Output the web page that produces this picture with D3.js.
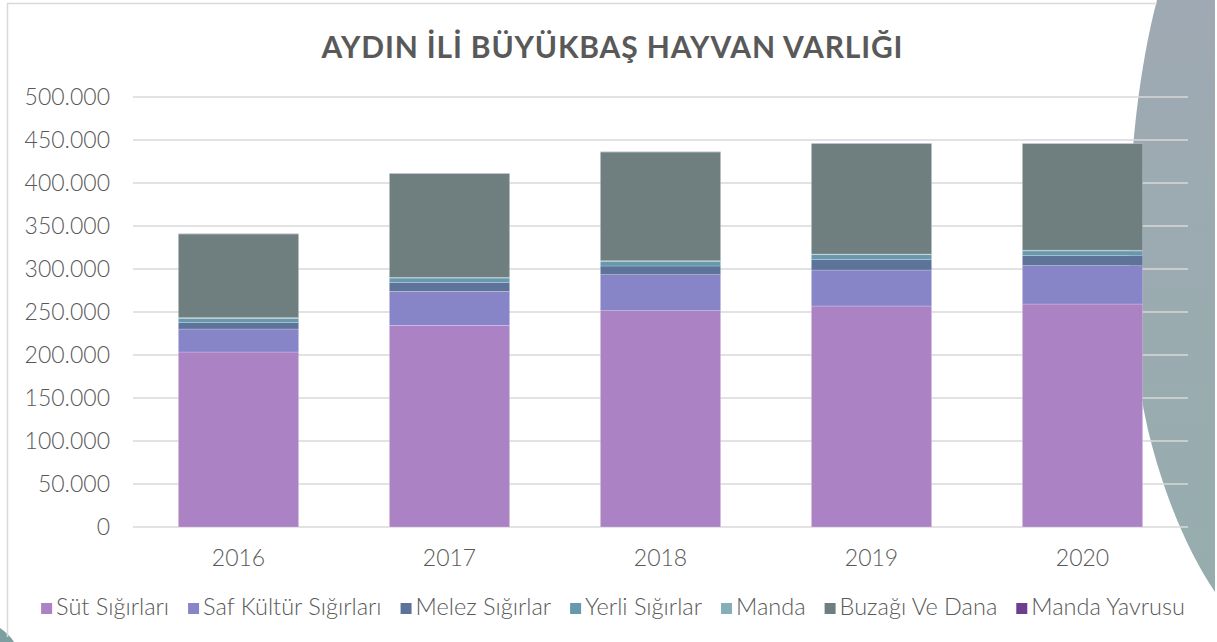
<!DOCTYPE html>
<html>
<head>
<meta charset="utf-8">
<script src="https://cdn.jsdelivr.net/npm/d3@7"></script>
<style>
  body { margin: 0; background: #fff; }
  svg text { font-family: "Lato", "Open Sans", sans-serif; }
</style>
</head>
<body>
<svg id="chart" width="1217" height="642"></svg>
<script>
/** Years on the x axis */
var years = ['2016', '2017', '2018', '2019', '2020'];

/** Series names, bottom to top */
var seriesNames = ['Süt Sığırları', 'Saf Kültür Sığırları', 'Melez Sığırlar', 'Yerli Sığırlar',
    'Manda', 'Buzağı Ve Dana', 'Manda Yavrusu'];

/** Series values per year (head count) */
var sutSigirlari   = [203500, 234500, 251500, 257000, 259300];
var safKultur      = [26700, 39500, 41900, 41800, 44600];
var melezSigirlar  = [7400, 10100, 10100, 12400, 11600];
var yerliSigirlar  = [5000, 5400, 5400, 5400, 5500];
var manda          = [800, 700, 700, 800, 900];
var buzagiVeDana   = [97300, 120700, 126400, 128400, 123800];
var mandaYavrusu   = [300, 300, 300, 300, 300];

/** Colors */
var seriesColors = ['#ab83c5', '#8784c7', '#5d7399', '#6898ae', '#84afb9', '#6f7f80', '#6e3d8d'];

var yTicks = [0, 50000, 100000, 150000, 200000, 250000, 300000, 350000, 400000, 450000, 500000];

var chartTitle = 'AYDIN İLİ BÜYÜKBAŞ HAYVAN VARLIĞI';

var width = 1217,
    height = 642,
    plotLeft = 133,
    plotRight = 1188,
    plotTop = 97,
    plotBottom = 527;

var svg = d3.select('#chart');

// build table for the stack
var allSeries = [sutSigirlari, safKultur, melezSigirlar, yerliSigirlar, manda, buzagiVeDana, mandaYavrusu];
var table = years.map(function (y, i) {
    var row = {year: y};
    seriesNames.forEach(function (s, j) {
        row[s] = allSeries[j][i];
    });
    return row;
});
var stacked = d3.stack().keys(seriesNames)(table);

var x = d3.scaleBand()
    .domain(years)
    .range([plotLeft, plotRight])
    .paddingInner(0.43)
    .paddingOuter(0.215);

var y = d3.scaleLinear()
    .domain([0, 500000])
    .range([plotBottom, plotTop]);

var color = d3.scaleOrdinal()
    .domain(seriesNames)
    .range(seriesColors);

var trLocale = d3.formatLocale({decimal: ',', thousands: '.', grouping: [3], currency: ['', ' TL']});
var fmt = trLocale.format(',');

// background and decoration
svg.append('rect')
    .attr('width', width)
    .attr('height', height)
    .attr('fill', '#ffffff');

var defs = svg.append('defs');
var grad = defs.append('linearGradient')
    .attr('id', 'decoGrad')
    .attr('x1', 0).attr('y1', 0).attr('x2', 0).attr('y2', 1);
grad.append('stop').attr('offset', '0%').attr('stop-color', '#9fa9b3');
grad.append('stop').attr('offset', '100%').attr('stop-color', '#96adae');

svg.append('path')
    .attr('d', 'M1157,0 C1128,110 1116,290 1148,430 C1165,500 1190,555 1215,592 L1215,0 Z')
    .attr('fill', 'url(#decoGrad)');

svg.append('path')
    .attr('d', 'M0,628 C6,632 11,637 14,642 L0,642 Z')
    .attr('fill', '#7e9f9f');

// frame
svg.append('path')
    .attr('d', 'M1157,3.5 L7.5,3.5 L7.5,637')
    .attr('fill', 'none')
    .attr('stroke', '#d9d9d9')
    .attr('stroke-width', 1.5);

// title
svg.append('text')
    .attr('x', 612)
    .attr('y', 58)
    .attr('text-anchor', 'middle')
    .attr('textLength', 581)
    .attr('lengthAdjust', 'spacing')
    .style('font-size', '30px')
    .style('font-weight', 'bold')
    .style('fill', '#595959')
    .text(chartTitle);

// gridlines
svg.append('g')
    .selectAll('line')
    .data(yTicks)
    .enter()
    .append('line')
    .attr('x1', plotLeft)
    .attr('x2', plotRight)
    .attr('y1', function (d) { return y(d); })
    .attr('y2', function (d) { return y(d); })
    .attr('stroke', '#d9d9d9')
    .attr('stroke-width', 1.3);

// y axis labels
var yAxis = d3.axisLeft(y)
    .tickValues(yTicks)
    .tickFormat(fmt)
    .tickSize(0)
    .tickPadding(0);

var gy = svg.append('g')
    .attr('transform', 'translate(110,0)')
    .call(yAxis);
gy.select('.domain').remove();
gy.selectAll('text')
    .style('font-size', '23px')
    .style('font-family', 'Lato, sans-serif')
    .style('font-weight', 300)
    .style('fill', '#595959');

// bars
svg.append('g')
    .selectAll('g')
    .data(stacked)
    .enter()
    .append('g')
    .attr('fill', function (d) { return color(d.key); })
    .selectAll('rect')
    .data(function (d) { return d; })
    .enter()
    .append('rect')
    .attr('x', function (d) { return x(d.data.year); })
    .attr('y', function (d) { return y(d[1]); })
    .attr('width', x.bandwidth())
    .attr('height', function (d) { return y(d[0]) - y(d[1]); })
    .attr('stroke', 'rgba(255,255,255,0.35)')
    .attr('stroke-width', 0.6);

// x axis labels
var xAxis = d3.axisBottom(x)
    .tickSize(0)
    .tickPadding(0);
var gx = svg.append('g')
    .attr('transform', 'translate(0,550)')
    .call(xAxis);
gx.select('.domain').remove();
gx.selectAll('text')
    .style('font-size', '23px')
    .style('font-family', 'Lato, sans-serif')
    .style('font-weight', 300)
    .style('fill', '#595959');

// legend
var legend = svg.append('g');
var items = legend.selectAll('g')
    .data(seriesNames)
    .enter()
    .append('g');

items.append('rect')
    .attr('width', 11)
    .attr('height', 11)
    .attr('y', -12)
    .attr('fill', function (d) { return color(d); });

items.append('text')
    .attr('x', 15)
    .attr('y', 0)
    .style('font-size', '23.5px')
    .style('font-weight', 300)
    .style('fill', '#595959')
    .text(function (d) { return d; });

var cursor = 0;
items.each(function () {
    var g = d3.select(this);
    var w = 15 + g.select('text').node().getComputedTextLength();
    g.attr('transform', 'translate(' + cursor + ',0)');
    cursor += w + 19;
});
var legendWidth = cursor - 19;
legend.attr('transform', 'translate(' + (613 - legendWidth / 2) + ',615)');
</script>
</body>
</html>
